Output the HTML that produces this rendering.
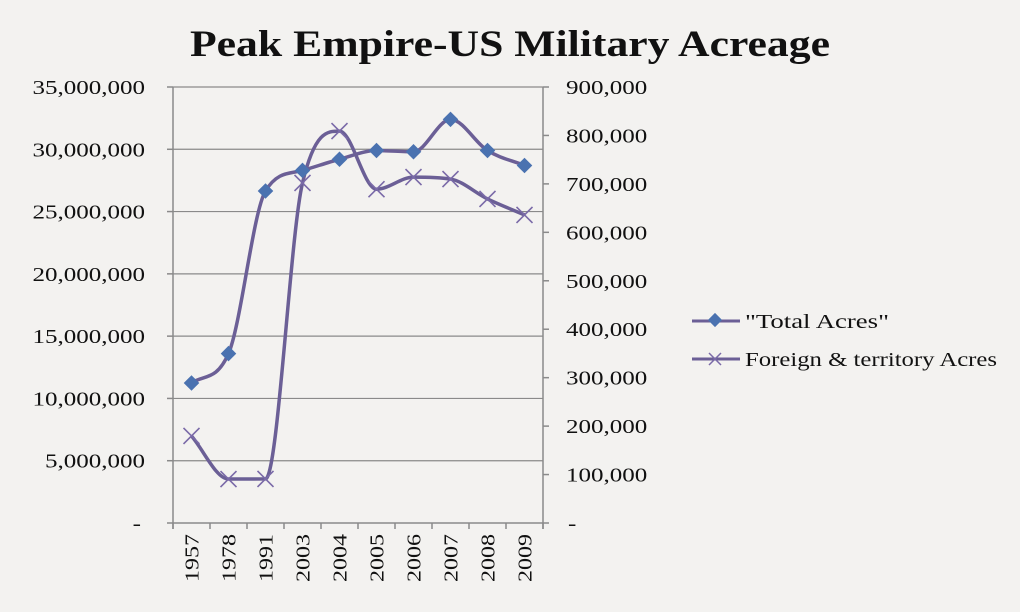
<!DOCTYPE html>
<html><head><meta charset="utf-8"><style>
html,body{margin:0;padding:0;background:#f3f2f0;}
svg{display:block;font-family:"Liberation Serif",serif;}
</style></head><body>
<svg id="chart" width="1020" height="612">
<rect x="0" y="0" width="1020" height="612" fill="#f3f2f0"/>
<text x="510" y="56" text-anchor="middle" font-size="37" font-weight="bold" fill="#111" textLength="640" lengthAdjust="spacingAndGlyphs">Peak Empire-US Military Acreage</text>
<g id="grid"></g><g id="axes"></g><g id="series"></g>
<g>
<g>
<line x1="692" y1="321" x2="740" y2="321" stroke="#6b5f96" stroke-width="3"/>
<rect x="710" y="315" width="10" height="10" fill="#4a72b0" transform="rotate(45 715 320)"/>
<text x="745" y="328" font-size="20" fill="#111" textLength="144" lengthAdjust="spacingAndGlyphs">"Total Acres"</text></g>
<g>
<line x1="692" y1="359" x2="740" y2="359" stroke="#6b5f96" stroke-width="3"/>
<path d="M709 353 L721 365 M721 353 L709 365" stroke="#7a6aa8" stroke-width="1.5"/>
<text x="745" y="366" font-size="20" fill="#111" textLength="252" lengthAdjust="spacingAndGlyphs">Foreign &amp; territory Acres</text></g>
</g>
</svg>
<script>
const categories=["1957","1978","1991","2003","2004","2005","2006","2007","2008","2009"];
const totalAcres=[11240000,13600000,26650000,28300000,29200000,29900000,29800000,32400000,29900000,28700000];
const foreignAcres=[179600,90800,91000,702000,809000,689000,714000,710000,669000,636000];
const leftTicks=[0,5000000,10000000,15000000,20000000,25000000,30000000,35000000];
const rightTicks=[0,100000,200000,300000,400000,500000,600000,700000,800000,900000];
const NS="http://www.w3.org/2000/svg";
const X0=173,X1=543,Y0=523,Y1=87;
const band=(X1-X0)/categories.length;
const xOf=i=>X0+band*(i+0.5);
const yL=v=>Y0-(v/35000000)*(Y0-Y1);
const yR=v=>Y0-(v/900000)*(Y0-Y1);
function mk(tag,attrs,parent){const e=document.createElementNS(NS,tag);for(const k in attrs)e.setAttribute(k,attrs[k]);parent.appendChild(e);return e;}
const fmt=v=>v===0?"-":v.toLocaleString("en-US");
function widen(t,f){const w=t.getComputedTextLength();t.setAttribute("textLength",w*f);t.setAttribute("lengthAdjust","spacingAndGlyphs");}
const grid=document.getElementById("grid"),axes=document.getElementById("axes"),ser=document.getElementById("series");
leftTicks.forEach(v=>{
 const y=yL(v);
 if(v>0){const g=mk("line",{x1:X0,x2:X1,y1:y,y2:y,stroke:"#8a8a8a","stroke-width":1.2},grid);
 
 }
 mk("line",{x1:X0-6,x2:X0,y1:y,y2:y,stroke:"#8a8a8a","stroke-width":1.5},axes);
 const t=mk("text",{x:v===0?141:145,y:y+7,"text-anchor":"end","font-size":20,fill:"#111"},axes);t.textContent=fmt(v);
 widen(t,1.25);
 
 
});
rightTicks.forEach(v=>{
 const y=yR(v);
 mk("line",{x1:X1,x2:X1+6,y1:y,y2:y,stroke:"#8a8a8a","stroke-width":1.5},axes);
 const t=mk("text",{x:v===0?568:566,y:y+7,"text-anchor":"start","font-size":20,fill:"#111"},axes);t.textContent=fmt(v);
 widen(t,1.25);
 
 
});
mk("line",{x1:X0,x2:X0,y1:Y1,y2:Y0+6,stroke:"#8a8a8a","stroke-width":1.5},axes);
mk("line",{x1:X1,x2:X1,y1:Y1,y2:Y0+6,stroke:"#8a8a8a","stroke-width":1.5},axes);
mk("line",{x1:X0,x2:X1,y1:Y0,y2:Y0,stroke:"#8a8a8a","stroke-width":1.5},axes);
for(let i=0;i<=categories.length;i++){const x=X0+band*i;mk("line",{x1:x,x2:x,y1:Y0,y2:Y0+6,stroke:"#8a8a8a","stroke-width":1.5},axes);}
categories.forEach((c,i)=>{
 const x=xOf(i)+7;
 const t=mk("text",{x:x,y:534,"text-anchor":"end","font-size":20,fill:"#111",transform:`rotate(-90 ${x} 534)`},axes);t.textContent=c;
 widen(t,1.2);
 
 
});
function smooth(pts){
 const n=pts.length,d=[],m=[];
 for(let i=0;i<n-1;i++)d.push((pts[i+1][1]-pts[i][1])/(pts[i+1][0]-pts[i][0]));
 for(let i=0;i<n;i++){
  if(i===0)m.push(d[0]);else if(i===n-1)m.push(d[n-2]);
  else m.push(d[i-1]*d[i]<=0?0:(d[i-1]+d[i])/2);
 }
 for(let i=0;i<n-1;i++){
  if(d[i]===0){m[i]=0;m[i+1]=0;continue;}
  const a=m[i]/d[i],b=m[i+1]/d[i],s=a*a+b*b;
  if(s>9){const t=3/Math.sqrt(s);m[i]=t*a*d[i];m[i+1]=t*b*d[i];}
 }
 let p=`M${pts[0][0]},${pts[0][1]}`;
 for(let i=0;i<n-1;i++){
  const h=(pts[i+1][0]-pts[i][0])/3;
  p+=` C${pts[i][0]+h},${pts[i][1]+m[i]*h} ${pts[i+1][0]-h},${pts[i+1][1]-m[i+1]*h} ${pts[i+1][0]},${pts[i+1][1]}`;
 }
 return p;
}
const pT=totalAcres.map((v,i)=>[xOf(i),yL(v)]);
const pF=foreignAcres.map((v,i)=>[xOf(i),yR(v)]);
const lT=mk("path",{d:smooth(pT),fill:"none",stroke:"#6b5f96","stroke-width":3.5},ser);


const lF=mk("path",{d:smooth(pF),fill:"none",stroke:"#6b5f96","stroke-width":3.5},ser);


pT.forEach(([x,y])=>{
 const r=mk("rect",{x:x-5.5,y:y-5.5,width:11,height:11,fill:"#4a72b0",transform:`rotate(45 ${x} ${y})`},ser);
 
 
});
pF.forEach(([x,y])=>{
 const p=mk("path",{d:`M${x-8},${y-8} L${x+8},${y+8} M${x+8},${y-8} L${x-8},${y+8}`,stroke:"#7a6aa8","stroke-width":1.6},ser);
 
 
});
</script>
</body></html>
